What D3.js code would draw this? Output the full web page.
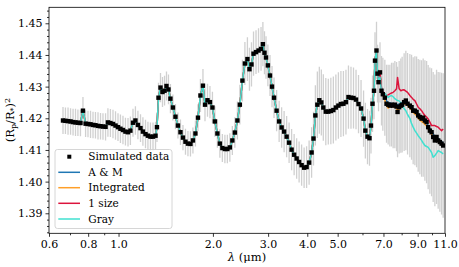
<!DOCTYPE html>
<html><head><meta charset="utf-8">
<script src="https://cdn.jsdelivr.net/npm/d3@7"></script>
<style>body{margin:0;background:#fff} svg{display:block}</style>
</head><body><svg id="c" width="459" height="267"></svg>
<script>
// ---- data ----
const wavelength = [
0.665,0.677,0.690,0.703,0.716,0.729,0.742,0.756,0.770,0.785,0.799,0.814,0.829,0.844,0.860,0.876,0.892,0.909,
0.925,0.942,0.960,0.978,0.996,1.014,1.033,1.052,1.072,1.091,1.112,1.132,1.153,1.175,1.196,1.219,1.241,1.264,1.288,1.312,
1.326,1.341,1.361,1.381,1.402,1.422,1.443,1.464,
1.491,1.519,1.547,1.576,1.605,1.635,1.665,1.696,1.727,1.759,1.792,
1.825,1.859,1.887,1.922,1.957,1.993,2.029,
2.067,2.105,2.144,2.184,2.224,2.265,2.307,2.350,
2.394,2.438,2.484,2.530,2.577,2.616,2.655,2.695,2.745,2.796,2.848,2.887,2.921,2.954,2.995,
3.042,3.087,3.133,3.193,3.253,3.313,3.374,3.437,3.500,3.565,3.632,3.699,3.767,3.837,3.908,3.980,4.054,
4.129,4.187,4.245,
4.307,4.370,4.435,4.500,4.583,4.668,4.756,4.844,4.935,5.027,5.121,5.216,5.314,5.413,5.514,5.617,5.722,5.828,5.937,6.048,
6.128,6.225,6.317,6.387,6.459,6.530,6.578,6.651,6.700,6.750,
6.824,6.900,6.968,7.071,7.160,7.245,7.336,7.428,7.516,7.610,7.706,7.763,7.855,7.953,8.029,8.148,8.251,8.355,8.498,8.605,
8.707,8.817,8.928,9.034,9.146,9.261,9.371,9.489,9.608,9.721,9.843,9.967,10.085,10.211,10.339,10.462,10.593,10.725,10.853];

const flux = [
1.4193,1.4192,1.4191,1.4190,1.4188,1.4187,1.4186,1.4185,1.4224,1.4183,1.4182,1.4181,1.4179,1.4178,1.4176,1.4175,1.4174,1.4173,
1.4187,1.4185,1.4182,1.4177,1.4172,1.4167,1.4163,1.4158,1.4156,1.4161,1.4186,1.4193,1.4179,1.4169,1.4158,1.4150,1.4145,1.4142,1.4142,1.4145,
1.4172,1.4265,1.4297,1.4283,1.4287,1.4302,1.4291,1.4262,
1.4234,1.4205,1.4177,1.4156,1.4139,1.4126,1.4120,1.4119,1.4130,1.4152,1.4202,
1.4272,1.4303,1.4243,1.4257,1.4251,1.4234,1.4190,
1.4152,1.4120,1.4106,1.4103,1.4103,1.4108,1.4130,1.4155,
1.4193,1.4243,1.4319,1.4373,1.4387,1.4355,1.4370,1.4404,1.4409,1.4414,1.4419,1.4434,1.4407,1.4392,1.4367,
1.4335,1.4300,1.4265,1.4224,1.4190,1.4171,1.4158,1.4142,1.4123,1.4101,1.4085,1.4073,1.4062,1.4052,1.4044,1.4046,1.4060,
1.4092,1.4136,1.4209,
1.4243,1.4257,1.4250,1.4234,1.4221,1.4221,1.4223,1.4226,1.4234,1.4240,1.4245,1.4246,1.4251,1.4267,1.4265,1.4264,1.4259,1.4245,1.4231,1.4199,
1.4161,1.4142,1.4137,1.4177,1.4246,1.4287,1.4382,1.4414,1.4341,1.4314,
1.4345,1.4287,1.4276,1.4265,1.4246,1.4243,1.4240,1.4243,1.4240,1.4243,1.4237,1.4220,1.4235,1.4240,1.4243,1.4251,1.4256,1.4246,1.4240,1.4235,
1.4224,1.4224,1.4220,1.4209,1.4204,1.4199,1.4202,1.4193,1.4188,1.4172,1.4161,1.4156,1.4141,1.4130,1.4141,1.4130,1.4125,1.4120,1.4114];

const fluxErr = [
0.0043,0.0042,0.0043,0.0042,0.0042,0.0043,0.0042,0.0042,0.0043,0.0042,0.0042,0.0043,0.0042,0.0042,0.0043,0.0042,0.0042,0.0043,
0.0045,0.0044,0.0045,0.0045,0.0044,0.0045,0.0045,0.0044,0.0045,0.0045,0.0044,0.0045,0.0045,0.0044,0.0045,0.0045,0.0044,0.0045,0.0045,0.0044,
0.0047,0.0047,0.0046,0.0047,0.0047,0.0046,0.0047,0.0046,
0.0041,0.0040,0.0041,0.0040,0.0040,0.0041,0.0040,0.0040,0.0041,0.0041,0.0042,
0.0052,0.0053,0.0052,0.0052,0.0051,0.0050,0.0048,
0.0045,0.0045,0.0044,0.0045,0.0045,0.0045,0.0046,0.0048,
0.0060,0.0063,0.0066,0.0068,0.0069,0.0068,0.0070,0.0070,0.0069,0.0070,0.0069,0.0070,0.0068,0.0067,0.0066,
0.0065,0.0065,0.0064,0.0065,0.0065,0.0064,0.0065,0.0065,0.0064,0.0065,0.0065,0.0064,0.0065,0.0065,0.0064,0.0066,0.0070,
0.0080,0.0085,0.0095,
0.0105,0.0106,0.0104,0.0105,0.0106,0.0104,0.0105,0.0106,0.0104,0.0105,0.0104,0.0103,0.0102,0.0100,0.0098,0.0096,0.0094,0.0092,0.0090,0.0089,
0.0088,0.0087,0.0087,0.0088,0.0089,0.0090,0.0090,0.0091,0.0091,0.0092,
0.0095,0.0110,0.0115,0.0120,0.0123,0.0126,0.0129,0.0132,0.0135,0.0138,0.0141,0.0143,0.0146,0.0149,0.0151,0.0154,0.0157,0.0160,0.0163,0.0166,
0.0169,0.0172,0.0175,0.0178,0.0181,0.0184,0.0187,0.0190,0.0193,0.0196,0.0199,0.0202,0.0205,0.0208,0.0212,0.0216,0.0220,0.0224,0.0228];

// Model spectra: shortward of 6.8 µm all models coincide with the simulated spectrum;
// the MIRI range (tail) differs per model.
const tailWavelength = [6.824,6.900,6.968,7.071,7.160,7.245,7.336,7.428,7.516,7.610,7.706,7.763,7.855,7.953,8.029,8.148,8.251,8.355,8.498,8.605,
8.707,8.817,8.928,9.034,9.146,9.261,9.371,9.489,9.608,9.721,9.843,9.967,10.085,10.211,10.339,10.462,10.593,10.725,10.853];
const modelAM = [1.4340,1.4295,1.4280,1.4268,1.4255,1.4250,1.4248,1.4247,1.4246,1.4246,1.4245,1.4243,1.4244,1.4246,1.4250,1.4253,1.4252,1.4247,1.4240,1.4233,
1.4227,1.4222,1.4216,1.4210,1.4204,1.4198,1.4194,1.4190,1.4184,1.4176,1.4167,1.4160,1.4150,1.4142,1.4140,1.4136,1.4130,1.4126,1.4122];
const modelIntegrated = [1.4338,1.4290,1.4272,1.4258,1.4240,1.4232,1.4236,1.4238,1.4236,1.4236,1.4232,1.4222,1.4230,1.4236,1.4242,1.4246,1.4245,1.4240,1.4232,1.4226,
1.4218,1.4214,1.4208,1.4200,1.4195,1.4190,1.4186,1.4181,1.4176,1.4166,1.4157,1.4150,1.4140,1.4132,1.4132,1.4127,1.4121,1.4116,1.4112];
const modelOneSize = [1.4345,1.4293,1.4282,1.4277,1.4272,1.4274,1.4277,1.4280,1.4282,1.4287,1.4293,1.4329,1.4293,1.4287,1.4289,1.4290,1.4286,1.4282,1.4272,1.4266,
1.4260,1.4256,1.4245,1.4235,1.4230,1.4224,1.4216,1.4209,1.4204,1.4198,1.4188,1.4177,1.4177,1.4177,1.4174,1.4172,1.4166,1.4161,1.4166];
const modelGray = [1.4330,1.4282,1.4278,1.4278,1.4272,1.4266,1.4270,1.4272,1.4268,1.4262,1.4258,1.4256,1.4255,1.4248,1.4245,1.4230,1.4224,1.4212,1.4200,1.4183,
1.4172,1.4161,1.4153,1.4145,1.4138,1.4130,1.4122,1.4114,1.4111,1.4108,1.4100,1.4092,1.4077,1.4082,1.4090,1.4098,1.4095,1.4092,1.4087];

const seriesNames = ["A & M","Integrated","1 size","Gray"];
const seriesColors = ["#1f77b4","#ff9f29","#dc143c","#40e0d0"];
const xTicks = [0.6,0.8,1.0,2.0,3.0,4.0,5.0,7.0,9.0,11.0];
const xMinorTicks = [0.7,0.9,6,8,10];
const yTicks = [1.39,1.40,1.41,1.42,1.43,1.44,1.45];
const yMinorTicks = [1.384,1.386,1.388,1.392,1.394,1.396,1.398,1.402,1.404,1.406,1.408,1.412,1.414,1.416,1.418,1.422,1.424,1.426,1.428,1.432,1.434,1.436,1.438,1.442,1.444,1.446,1.448,1.452,1.454];

// ---- layout ----
const L = 49, R = 445, T = 7.3, B = 233.3;
const FONT = "'DejaVu Serif', 'Liberation Serif', serif";
const svg = d3.select("#c");
const x = d3.scaleLog().domain([0.6, 11]).range([L, R]);
const y = d3.scaleLinear().domain([1.38368, 1.45505]).range([B, T]);

svg.append("defs").append("clipPath").attr("id","clip")
  .append("rect").attr("x",L).attr("y",T).attr("width",R-L).attr("height",B-T);

const pts = wavelength.map((w,i)=>({w, f:flux[i], e:fluxErr[i]}));
const plot = svg.append("g").attr("clip-path","url(#clip)");

// error bars
plot.append("g").selectAll("line").data(pts).join("line")
  .attr("x1",d=>x(d.w)).attr("x2",d=>x(d.w))
  .attr("y1",d=>y(d.f-d.e)).attr("y2",d=>y(d.f+d.e))
  .attr("stroke","#d0d0d0").attr("stroke-width",1.3);

// model lines
const cutoff = tailWavelength[0];
const head = pts.filter(d=>d.w < cutoff).map(d=>({w:d.w, f:d.f}));
const tails = [modelAM, modelIntegrated, modelOneSize, modelGray];
const line = d3.line().x(d=>x(d.w)).y(d=>y(d.f));
tails.forEach((vals,k)=>{
  const series = head.concat(tailWavelength.map((w,i)=>({w, f:vals[i]})));
  plot.append("path").datum(series).attr("d",line)
    .attr("fill","none").attr("stroke",seriesColors[k]).attr("stroke-width",1.5)
    .attr("stroke-linejoin","round");
});

// data points
plot.append("g").selectAll("rect").data(pts).join("rect")
  .attr("x",d=>x(d.w)-2.2).attr("y",d=>y(d.f)-2.2).attr("width",4.4).attr("height",4.4)
  .attr("fill","#000");

// ---- axes ----
svg.append("g").attr("transform",`translate(0,${B})`)
  .call(d3.axisBottom(x).tickValues(xTicks).tickFormat(d3.format(".1f")).tickSize(3.5).tickPadding(3));
svg.append("g").attr("transform",`translate(0,${B})`)
  .call(d3.axisBottom(x).tickValues(xMinorTicks).tickFormat("").tickSize(2));
svg.append("g").attr("transform",`translate(${L},0)`)
  .call(d3.axisLeft(y).tickValues(yTicks).tickFormat(d3.format(".2f")).tickSize(3.5).tickPadding(3));
svg.append("g").attr("transform",`translate(${L},0)`)
  .call(d3.axisLeft(y).tickValues(yMinorTicks).tickFormat("").tickSize(2));
svg.selectAll(".domain").remove();
svg.selectAll(".tick line").attr("stroke","#000").attr("stroke-width",0.8);
svg.selectAll(".tick text").attr("font-family",FONT).attr("font-size",11).attr("fill","#000");

// frame
svg.append("rect").attr("x",L).attr("y",T).attr("width",R-L).attr("height",B-T)
  .attr("fill","none").attr("stroke","#000").attr("stroke-width",0.8);

// axis labels
const xl = svg.append("text").attr("x",(L+R)/2).attr("y",261).attr("text-anchor","middle")
  .attr("font-family",FONT).attr("font-size",11.5);
xl.append("tspan").attr("font-style","italic").text("λ");
xl.append("tspan").text(" (μm)");

const yl = svg.append("text").attr("transform","translate(14,120) rotate(-90)")
  .attr("text-anchor","middle").attr("font-family",FONT).attr("font-size",11.5);
yl.append("tspan").text("(R");
yl.append("tspan").attr("font-size",8).attr("baseline-shift","-25%").text("p");
yl.append("tspan").text("/R");
yl.append("tspan").attr("font-size",8).attr("baseline-shift","-25%").text("*");
yl.append("tspan").text(")");
yl.append("tspan").attr("font-size",8).attr("baseline-shift","45%").text("2");

// ---- legend ----
const lg = svg.append("g");
lg.append("rect").attr("x",55).attr("y",149.5).attr("width",117).attr("height",79).attr("rx",2.5)
  .attr("fill","#fff").attr("fill-opacity",0.8).attr("stroke","#cccccc").attr("stroke-width",0.8);
const rowY = [156.7, 172.3, 187.7, 203.3, 219];
lg.append("rect").attr("x",69.3-2).attr("y",rowY[0]-2).attr("width",4).attr("height",4).attr("fill","#000");
lg.append("text").attr("x",88.3).attr("y",rowY[0]).attr("dy","0.35em")
  .attr("font-family",FONT).attr("font-size",10.5).text("Simulated data");
seriesNames.forEach((n,k)=>{
  lg.append("line").attr("x1",58.3).attr("x2",80).attr("y1",rowY[k+1]).attr("y2",rowY[k+1])
    .attr("stroke",seriesColors[k]).attr("stroke-width",1.5);
  lg.append("text").attr("x",88.3).attr("y",rowY[k+1]).attr("dy","0.35em")
    .attr("font-family",FONT).attr("font-size",10.5).text(n);
});
</script></body></html>
